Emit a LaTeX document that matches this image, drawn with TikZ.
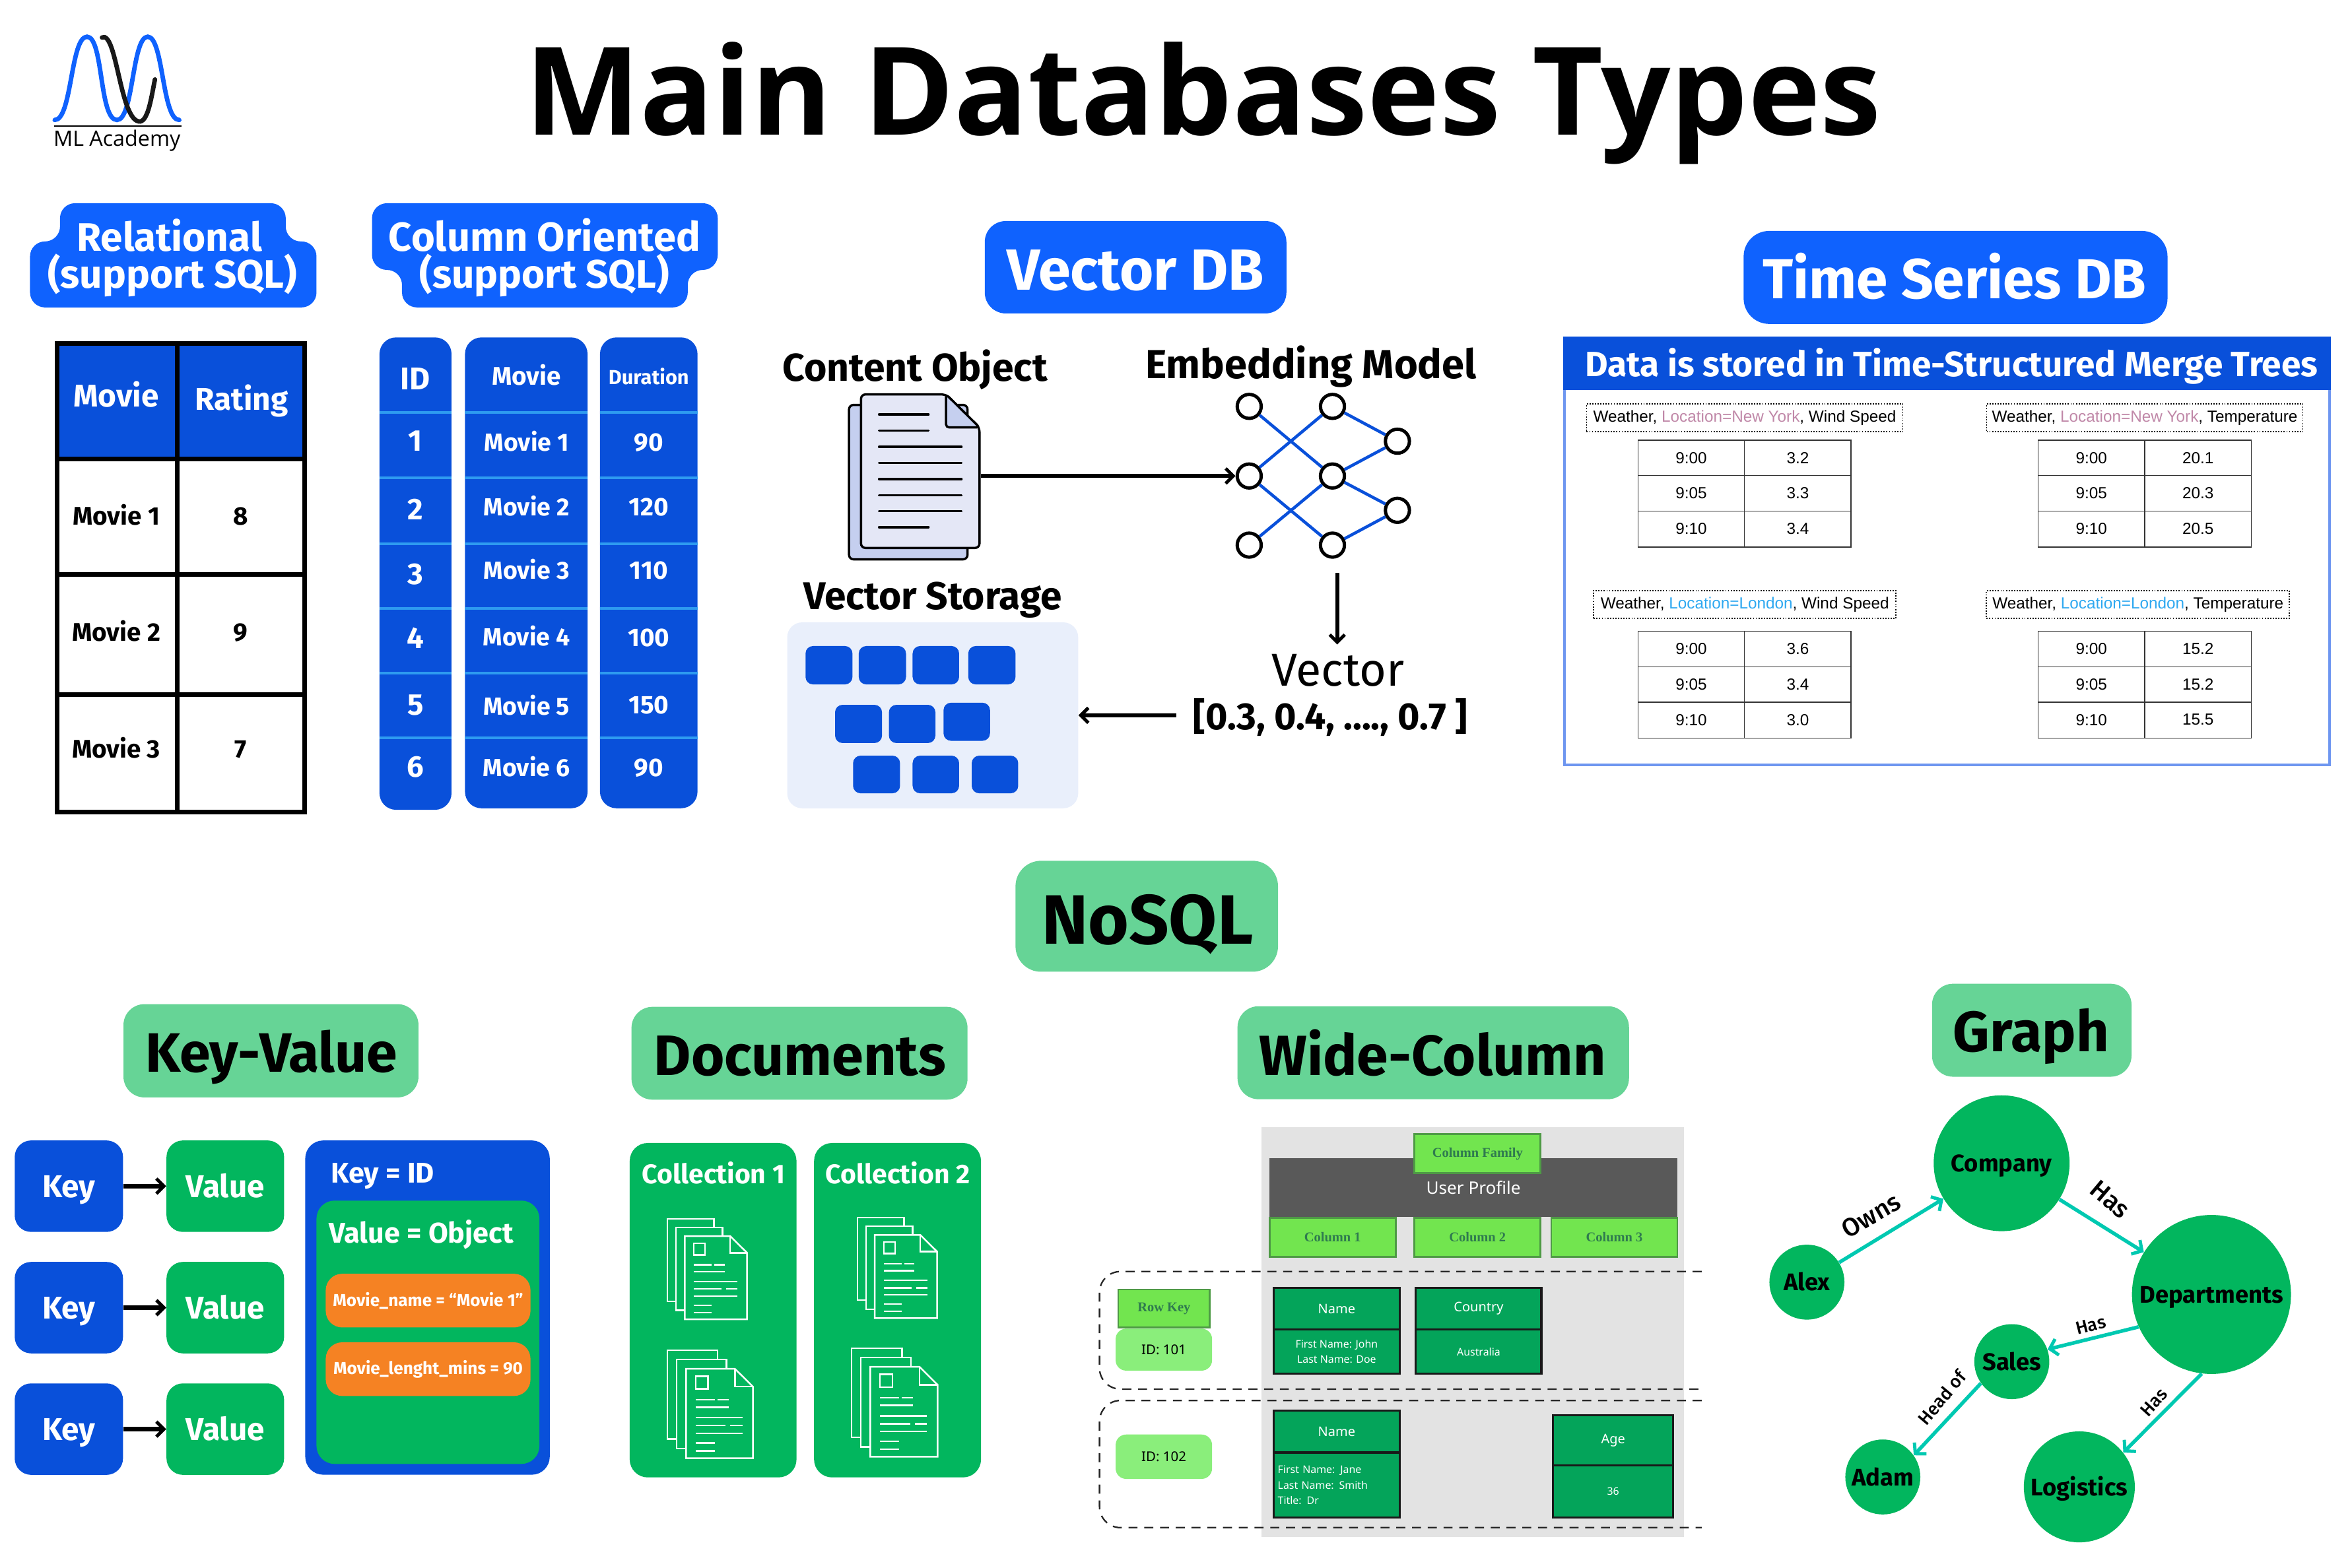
\documentclass[tikz,border=0pt]{standalone}
\usepackage{fontspec}
\setmainfont{Noto Sans}
\newfontfamily\hf{Fira Sans}
\newfontfamily\mf{Fira Sans Medium}
\newfontfamily\titlef{Open Sans}
\newfontfamily\tsf{Liberation Sans}
\newfontfamily\rsf{Liberation Serif}
\usetikzlibrary{arrows.meta}
\definecolor{bluebadge}{HTML}{0F62FE}
\definecolor{bluedark}{HTML}{0950DA}
\definecolor{bluerule}{HTML}{2E9BF0}
\definecolor{bluepale}{HTML}{E9EFFB}
\definecolor{bluepanel}{HTML}{6E96F0}
\definecolor{docfront}{HTML}{E4E7F6}
\definecolor{docback}{HTML}{C5CFEF}
\definecolor{greenbadge}{HTML}{66D496}
\definecolor{greenbox}{HTML}{02B65E}
\definecolor{greencell}{HTML}{04A45A}
\definecolor{greenkey}{HTML}{72E54F}
\definecolor{greenedge}{HTML}{4E9A45}
\definecolor{greentext}{HTML}{2F7A4F}
\definecolor{greenpill}{HTML}{8AEE7B}
\definecolor{orangebox}{HTML}{F58223}
\definecolor{teal}{HTML}{00C9B1}
\definecolor{locpink}{HTML}{C088A8}
\definecolor{locblue}{HTML}{2EA8F0}
\def\fz#1{\fontsize{#1}{#1}\selectfont}
\tikzset{
  wt/.style={inner sep=0pt,anchor=base,yshift={-0.35*#1},text=white,font=\hf\bfseries\fz{#1}},
  bk/.style={inner sep=0pt,anchor=base,yshift={-0.35*#1},text=black,font=\hf\bfseries\fz{#1}},
  lb/.style={inner sep=0pt,text=black,font=\mf\fz{#1}},
  blackarrow/.style={draw=black,line width=2.6pt,-{Straight Barb[length=5pt,width=10pt,line width=2.2pt]}},
  tealarrow/.style={draw=teal,line width=2.4pt,-{Straight Barb[length=5pt,width=11pt,line width=2.2pt]}},
  netnode/.style={circle,draw=black,line width=2.2pt,fill=white,minimum size=16pt,inner sep=0pt},
  netedge/.style={draw=bluedark,line width=2pt},
  tsline/.style={draw=black!80,line width=0.6pt},
  tsbox/.style={draw=black,densely dotted,line width=0.8pt,inner sep=0pt,minimum height=18.5pt,font=\tsf\fz{10.7}},
  tsval/.style={inner sep=0pt,font=\tsf\fz{10.7}},
  kvbox/.style={rounded corners=11pt,inner sep=0pt,minimum height=61pt,text height=15pt,text depth=0pt,text=white,font=\hf\bfseries\fz{21}},
  orangepill/.style={fill=orangebox,rounded corners=11pt,inner sep=0pt,minimum width=136.5pt,minimum height=35.8pt,text=white,font=\hf\bfseries\fz{11.5}},
  colbox/.style={fill=greenkey,draw=greenedge,line width=1.2pt,inner sep=0pt,minimum width=84pt,minimum height=26pt,text=greentext,font=\rsf\bfseries\fz{9}},
  widecell/.style={fill=greencell,draw=black!90,line width=1.4pt,inner sep=0pt,text=white,font=\fz{8.8},anchor=north west},
  idpill/.style={fill=greenpill,rounded corners=7pt,inner sep=0pt,minimum width=64.3pt,font=\fz{9}},
  rowdash/.style={draw=black!85,dashed,dash pattern=on 6pt off 4.5pt,line width=1pt,rounded corners=14pt},
  gnode/.style={circle,fill=greenbox,inner sep=0pt,text height=11.5pt,text depth=0pt,text=black,font=\hf\bfseries\fz{#1}},
}
\begin{document}
\begin{tikzpicture}[x=1pt,y=-1pt]
  \useasboundingbox (0,0) rectangle (1568,1045.2);
  \def\bb(#1,#2)(#3,#4)#5{\fill[#5] (#1,#2) rectangle (#3,#4);}
  % document icon on green
  \def\dc(#1,#2)#3{
    \begin{scope}[shift={(#1,#2)},x=#3pt,y=-#3pt,draw=white,line width=1.1pt,fill=greenbox]
      \filldraw (0,0) rectangle (31,55);
      \filldraw (5.6,5.7) rectangle (36.6,61);
      \filldraw (11.5,11.5) -- (41.8,11.5) -- (53,22.6) -- (53,67) -- (11.5,67) -- cycle;
      \draw (41.8,11.5) -- (41.8,22.6) -- (53,22.6);
      \draw (17.5,16.2) rectangle (25.1,24);
      \draw (17.5,30.7) -- (29.4,30.7) (31,30.7) -- (38,30.7);
      \draw (17.5,35.3) -- (38,35.3);
      \draw (17.5,41.8) -- (46.5,41.8);
      \draw (17.5,46.7) -- (36,46.7) (39,46.7) -- (46.5,46.7);
      \draw (17.5,51.5) -- (46.5,51.5);
      \draw (17.5,57.6) -- (29.4,57.6);
      \draw (17.5,62.4) -- (29.4,62.4);
    \end{scope}
  }
  % time series table
  \def\tb(#1,#2)#3#4#5#6{
    \draw[tsline] (#1,#2) rectangle ++(142,71.2);
    \draw[tsline] (#1+71,#2) -- ++(0,71.2);
    \draw[tsline] (#1,#2+23.6) -- ++(142,0);
    \draw[tsline] (#1,#2+47.2) -- ++(142,0);
    \foreach \t/\v [count=\i] in {9:00/#4,9:05/#5,9:10/#6} {
      \node[tsval] (#3t\i) at (#1+35.5,#2+11.8+23.6*\i-23.6) {\t};
      \node[tsval] (#3v\i) at (#1+106.5,#2+11.8+23.6*\i-23.6) {\v};
    }
  }

  % logo
  \draw[bluebadge,line width=3pt,line cap=round] (36.5,80) .. controls (48,80) and (47,24.5) .. (58,24.5)
    .. controls (69,24.5) and (66,80) .. (78,80) .. controls (89,80) and (88,24.5) .. (98.5,24.5)
    .. controls (109,24.5) and (108,80) .. (119.5,80);
  \draw[black!90,line width=3pt,line cap=round] (68,25) .. controls (78,20) and (80,82) .. (93.5,81)
    .. controls (99,80) and (101,64) .. (103.3,53);
  \draw[black,line width=1.1pt] (36,84) -- (121,84);
  \node[inner sep=0pt,font=\titlef\fz{14.2}] (logotext) at (78,94) {ML Academy};
  \node[inner sep=0pt,anchor=base,font=\titlef\bfseries\fz{81.6}] (title) at (802,90) {Main Databases Types};

  % relational
  \fill[bluebadge,rounded corners=10pt] (40,135.5) -- (190.5,135.5) -- (190.5,161) -- (211,161)
    -- (211,205) -- (20,205) -- (20,161) -- (40,161) -- cycle;
  \node[wt=26.5] (rel1) at (113,158) {Relational};
  \node[wt=26.5] (rel2) at (115,183) {(support SQL)};
  \bb(36.5,227.4)(204.4,306){bluedark}
  \draw[black,line width=3pt] (38,229) rectangle (203,541.5);
  \draw[black,line width=3pt] (118,229) -- (118,541.5);
  \foreach \y in {306,383,463} {\draw[black,line width=3pt] (38,\y) -- (203,\y);}
  \node[wt=21] (relh1) at (77.5,264) {Movie};
  \node[wt=21] (relh2) at (161,266) {Rating};
  \foreach \m/\v/\y [count=\i] in {Movie 1/8/344,Movie 2/9/421.6,Movie 3/7/499.5} {
    \node[bk=17] (relm\i) at (77.5,\y) {\m};
    \node[bk=17] (relv\i) at (160.5,\y) {\v};
  }

  % column oriented
  \fill[bluebadge,rounded corners=10pt] (248,135.5) -- (478.5,135.5) -- (478.5,180) -- (458.5,180)
    -- (458.5,205) -- (268,205) -- (268,180) -- (248,180) -- cycle;
  \node[wt=27] (col1) at (363,158) {Column Oriented};
  \node[wt=26.5] (col2) at (363,183) {(support SQL)};
  \fill[bluedark,rounded corners=11pt] (253,225) rectangle (301,540);
  \fill[bluedark,rounded corners=11pt] (310,225) rectangle (391.7,539);
  \fill[bluedark,rounded corners=11pt] (400,225) rectangle (465,539);
  \foreach \y in {275,318.7,362.6,405.7,449,492} {
    \draw[bluerule,line width=1.6pt] (253,\y) -- (301,\y) (310,\y) -- (391.7,\y) (400,\y) -- (465,\y);
  }
  \node[wt=21] (idh) at (277,252.5) {ID};
  \node[wt=17] (movh) at (351,251) {Movie};
  \node[wt=13.5] (durh) at (432.5,251.5) {Duration};
  \foreach \n/\y [count=\i] in {1/294,2/339.6,3/382.7,4/425.5,5/470,6/511} {\node[wt=20] (id\i) at (277,\y) {\n};}
  \foreach \n/\y [count=\i] in {1/295,2/338,3/380.6,4/425,5/471,6/512} {\node[wt=16.5] (mov\i) at (351,\y) {Movie \n};}
  \foreach \n/\y [count=\i] in {90/295,120/338,110/380,100/425,150/470,90/512} {\node[wt=17] (dur\i) at (432.5,\y) {\n};}

  % vector db
  \fill[bluebadge,rounded corners=14pt] (656.5,147.4) rectangle (857.6,209);
  \node[wt=38.7] (vecdb) at (757,180) {Vector DB};
  \node[bk=25.9] (content) at (610,245) {Content Object};
  \node[bk=27] (embed) at (874,243) {Embedding Model};
  \filldraw[black,fill=docback,line width=1.5pt,rounded corners=3pt] (566,270) rectangle (645,373);
  \filldraw[black,fill=docfront,line width=1.5pt,rounded corners=3pt] (574,263) -- (630.7,263) -- (653,285) -- (653,365.4) -- (574,365.4) -- cycle;
  \filldraw[black,fill=docback,line width=1.5pt,rounded corners=2pt] (630.7,263) -- (630.7,285) -- (653,285) -- cycle;
  \foreach \y/\e in {276.4/619,287.2/619,298/641,308.8/641,319.5/641,330.3/641,340.8/641,351.6/619} {
    \draw[black,line width=1.5pt,line cap=round] (586,\y) -- (\e,\y);
  }
  \coordinate (docr) at (653.9,317.4);
  \foreach \nm/\x/\y in {a1/832.8/271,a2/832.8/317.4,a3/832.8/363.5,b1/888.3/271,b2/888.3/317.4,b3/888.3/363.5,c1/931.6/294.2,c2/931.6/340.3} {
    \node[netnode] (\nm) at (\x,\y) {};
  }
  \foreach \s/\t in {a1/b2,a2/b1,a2/b3,a3/b2,b1/c1,b2/c1,b2/c2,b3/c2} {
    \draw[netedge] (\s) -- (\t);
  }
  \draw[blackarrow] (docr) -- (a2);
  \coordinate (netb) at (891.5,382);
  \coordinate (vecup) at (891.5,429.8);
  \node[inner sep=0pt,font=\hf\fz{30.8}] (vectxt) at (892,447) {Vector};
  \node[bk=25.2] (vecval) at (887,477.5) {[0.3, 0.4, ...., 0.7 ]};
  \draw[blackarrow] (netb) -- (vecup);
  \node[bk=25.8] (vecstore) at (621.7,397.4) {Vector Storage};
  \node[fill=bluepale,rounded corners=10pt,inner sep=0pt,minimum width=194pt,minimum height=124pt] (store) at (621.8,477) {};
  \foreach \a/\b/\c/\d in {537/430.8/568.3/456.4,572.5/430.8/604/456.4,608.4/430.8/639.4/456.4,645.5/430.8/677/456.4,
      556.7/470/588/495.5,592.6/470/623.6/495.5,629/468.6/660/494,
      568.7/503.9/600/529,608.4/503.9/639.4/529,647.8/503.9/678.8/529} {
    \fill[bluedark,rounded corners=5pt] (\a,\b) rectangle (\c,\d);
  }
  \coordinate (valw) at (784,477);
  \draw[blackarrow] (valw) -- (store.east);

  % time series
  \fill[bluebadge,rounded corners=17pt] (1162.4,154) rectangle (1445,216);
  \node[wt=37.6] (tsdb) at (1303,186) {Time Series DB};
  \draw[bluepanel,line width=2pt] (1043,225.4) rectangle (1553,510);
  \bb(1042,224.4)(1554,260){bluedark}
  \node[wt=23.4] (tshead) at (1301,243) {Data is stored in Time-Structured Merge Trees};
  \def\nyc{\textcolor{locpink}{Location=New York}}
  \def\ldn{\textcolor{locblue}{Location=London}}
  \node[tsbox,minimum width=210.8pt] (ts1) at (1163.1,278.7) {Weather, \nyc, Wind Speed};
  \node[tsbox,minimum width=210.8pt] (ts2) at (1429.8,278.7) {Weather, \nyc, Temperature};
  \node[tsbox,minimum width=201.5pt] (ts3) at (1163.2,403.1) {Weather, \ldn, Wind Speed};
  \node[tsbox,minimum width=201.9pt] (ts4) at (1425.3,403.1) {Weather, \ldn, Temperature};
  \tb(1092,293.6){wa}{3.2}{3.3}{3.4}
  \tb(1358.8,293.6){wb}{20.1}{20.3}{20.5}
  \tb(1092,421){wc}{3.6}{3.4}{3.0}
  \tb(1358.8,421){wd}{15.2}{15.2}{15.5}

  % nosql
  \fill[greenbadge,rounded corners=17pt] (677,574) rectangle (852,648);
  \node[bk=46.6] (nosql) at (765,613) {NoSQL};
  \fill[greenbadge,rounded corners=14pt] (82.3,669.6) rectangle (279,731.8);
  \node[bk=37] (kvt) at (181,702) {Key-Value};
  \fill[greenbadge,rounded corners=14pt] (421,671.4) rectangle (645,733.3);
  \node[bk=38] (doct) at (533.3,704) {Documents};
  \fill[greenbadge,rounded corners=14pt] (825,671) rectangle (1086,733);
  \node[bk=37.8] (widet) at (955,704) {Wide-Column};
  \fill[greenbadge,rounded corners=14pt] (1288,656) rectangle (1421,718);
  \node[bk=38] (grapht) at (1354,688) {Graph};

  % key value
  \foreach \y [count=\i] in {791,872,953} {
    \node[kvbox,fill=bluedark,minimum width=72.2pt] (key\i) at (45.9,\y) {Key};
    \node[kvbox,fill=greenbox,minimum width=78.4pt] (val\i) at (150.2,\y) {Value};
    \draw[blackarrow,line width=3pt] (key\i) -- (val\i);
  }
  \fill[bluedark,rounded corners=12pt] (203.5,760.5) rectangle (366.5,983.4);
  \node[wt=19,anchor=base west] (kid) at (220.6,782) {Key = ID};
  \fill[greenbox,rounded corners=12pt] (211,800.6) rectangle (359.6,976.2);
  \node[wt=19,anchor=base west] (vobj) at (219.3,822.2) {Value = Object};
  \node[orangepill] (mname) at (285.4,867.3) {Movie\_name = “Movie 1”};
  \node[orangepill] (mlen) at (285.4,913) {Movie\_lenght\_mins = 90};

  % documents
  \fill[greenbox,rounded corners=12pt] (419.8,762.2) rectangle (531,985.2);
  \fill[greenbox,rounded corners=12pt] (542.7,762.2) rectangle (654,985.2);
  \node[wt=18] (coll1) at (475.7,783) {Collection 1};
  \node[wt=18] (coll2) at (598.6,783) {Collection 2};
  \dc(445,812.8){1}
  \dc(571.7,812){1}
  \dc(445,900.4){1.075}
  \dc(567.8,899){1.08}

  % wide column
  \bb(840.8,751.6)(1122.6,1025){gray!22}
  \bb(846.1,772.3)(1118.4,811.6){black!65}
  \node[inner sep=0pt,text=white,font=\fz{11.5}] (uprof) at (982.3,792) {User Profile};
  \node[colbox] (cfam) at (985,769.3) {Column Family};
  \node[colbox] (colA) at (888.4,825) {Column 1};
  \node[colbox] (colB) at (985,825) {Column 2};
  \node[colbox] (colC) at (1076.2,825) {Column 3};
  \draw[rowdash] (1134.4,847.9) -- (733,847.9) -- (733,926.3) -- (1134.4,926.3);
  \draw[rowdash] (1134.4,933.9) -- (733,933.9) -- (733,1018.7) -- (1134.4,1018.7);
  \node[idpill,minimum height=28pt] (id101) at (775.9,900) {ID: 101};
  \node[colbox,minimum width=61pt,minimum height=25.3pt] (rkey) at (776,872.6) {Row Key};
  \node[idpill,minimum height=29.6pt] (id102) at (775.9,971.4) {ID: 102};
  \node[widecell,minimum width=84pt,minimum height=28pt] (w1a) at (848.4,858) {Name};
  \node[widecell,minimum width=84pt,minimum height=29.2pt,align=center,font=\fz{7}] (w1b) at (848.4,886) {First Name: John\\[3pt]Last Name: Doe};
  \node[widecell,minimum width=83.7pt,minimum height=28pt] (w2a) at (943.2,858) {Country};
  \node[widecell,minimum width=83.7pt,minimum height=29.2pt,font=\fz{7}] (w2b) at (943.2,886) {Australia};
  \node[widecell,minimum width=84pt,minimum height=28pt] (w3a) at (848.4,939.9) {Name};
  \node[widecell,minimum width=84pt,minimum height=43.5pt,align=left,font=\fz{7},text width=78.5pt] (w3b) at (848.4,967.9) {First Name: Jane\\[3.4pt]Last Name: Smith\\[3.4pt]Title: Dr};
  \node[widecell,minimum width=80pt,minimum height=33.4pt] (w4a) at (1034.7,943) {Age};
  \node[widecell,minimum width=80pt,minimum height=35pt,font=\fz{7}] (w4b) at (1034.7,976.4) {36};

  % graph
  \node[gnode=16,minimum size=90.6pt] (company) at (1334.4,775.7) {Company};
  \node[gnode=16,minimum size=106pt] (depts) at (1474.3,863.2) {Departments};
  \node[gnode=16,minimum size=50pt] (alex) at (1204.6,855) {Alex};
  \node[gnode=16,minimum size=50pt] (sales) at (1341.2,908) {Sales};
  \node[gnode=16,minimum size=50pt] (adam) at (1255.2,984.9) {Adam};
  \node[gnode=16,minimum size=74pt] (logistics) at (1386.2,991.5) {Logistics};
  \draw[tealarrow] (alex) -- (company);
  \draw[tealarrow] (company) -- (depts);
  \draw[tealarrow] (depts.204) -- (sales.19);
  \draw[tealarrow] (depts.263) -- (logistics.38);
  \draw[tealarrow] (sales.215) -- (adam.35);
  \node[lb=17,rotate=30] (lowns) at (1247.4,810.6) {Owns};
  \node[lb=17,rotate=-40] (lhas1) at (1406.7,799.8) {Has};
  \node[lb=12,rotate=14] (lhas2) at (1393.8,883.7) {Has};
  \node[lb=12,rotate=48] (lhas3) at (1436,935.2) {Has};
  \node[lb=12,rotate=50] (lhead) at (1294.5,932) {Head of};
\end{tikzpicture}
\end{document}
